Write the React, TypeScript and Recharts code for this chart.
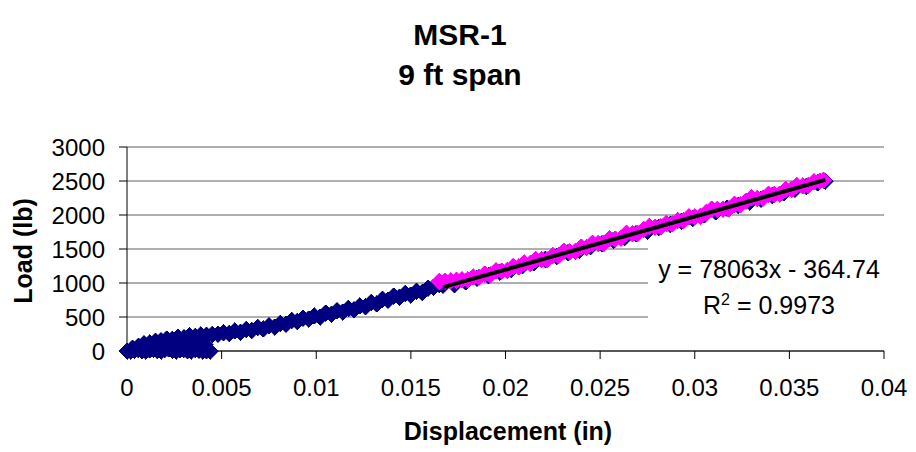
import { ScatterChart, Scatter, XAxis, YAxis, CartesianGrid } from "recharts";

const FONT = "'Liberation Sans', Arial, Helvetica, sans-serif";

// x = displacement (in), y = load (lb)
const toeCluster: [number, number][] = [
  [0.0002, 0], [0.0004, 10], [0.0006, 20], [0.0008, 5], [0.001, 0], [0.0011, 45],
  [0.0012, 15], [0.0014, 25], [0.0016, 5], [0.0017, 60], [0.0018, 0], [0.002, 20],
  [0.0022, 30], [0.0023, 70], [0.0024, 10], [0.0026, 0], [0.0028, 15], [0.0029, 80],
  [0.003, 25], [0.0032, 5], [0.0034, 0], [0.0035, 90], [0.0036, 20], [0.0038, 10],
  [0.004, 0], [0.0041, 95], [0.0042, 5], [0.0044, 0],
];

const riseCurve: [number, number][] = [
  [0, 0], [0.0003, 40], [0.0006, 70], [0.0009, 105], [0.0012, 120], [0.0015, 145],
  [0.0018, 150], [0.0021, 175], [0.0024, 170], [0.0027, 200], [0.003, 195],
  [0.0033, 222], [0.0036, 212], [0.0039, 238], [0.0042, 228], [0.0045, 242],
  [0.0048, 245], [0.0051, 270], [0.0054, 258], [0.0057, 295], [0.006, 278],
  [0.0063, 318], [0.0066, 300], [0.0069, 345], [0.0072, 325], [0.0075, 372],
  [0.0078, 352], [0.0081, 405], [0.0084, 392], [0.0087, 450], [0.009, 432],
  [0.0093, 482], [0.0096, 468], [0.0099, 515], [0.0102, 500], [0.0105, 556],
  [0.0108, 540], [0.0111, 590], [0.0114, 572], [0.0117, 625], [0.012, 608],
  [0.0123, 662], [0.0126, 648], [0.0129, 712], [0.0132, 692], [0.0135, 762],
  [0.0138, 745], [0.0141, 808], [0.0144, 788], [0.0147, 845], [0.015, 822],
  [0.0153, 880], [0.0156, 858], [0.0159, 925], [0.0162, 935], [0.0165, 978],
];

const linearNavy: [number, number][] = [
  [0.0167, 965], [0.0173, 975], [0.0179, 1015], [0.0185, 1068], [0.0191, 1108],
  [0.0197, 1160], [0.0203, 1200], [0.0209, 1255], [0.0215, 1295], [0.0221, 1348],
  [0.0227, 1390], [0.0233, 1442], [0.0239, 1482], [0.0245, 1535], [0.0251, 1575],
  [0.0257, 1630], [0.0263, 1670], [0.0269, 1722], [0.0275, 1762], [0.0281, 1815],
  [0.0287, 1858], [0.0293, 1910], [0.0299, 1950], [0.0305, 2002], [0.0311, 2045],
  [0.0317, 2098], [0.0323, 2138], [0.0329, 2190], [0.0335, 2232], [0.0341, 2285],
  [0.0347, 2325], [0.0353, 2378], [0.0359, 2420], [0.0365, 2472], [0.0369, 2500],
];

const fitRange: [number, number][] = [
  [0.0165, 1023], [0.0168, 1027], [0.0171, 1030], [0.0174, 1040], [0.0177, 1050],
  [0.018, 1045], [0.0183, 1090], [0.0186, 1082], [0.0189, 1130], [0.0192, 1118],
  [0.0195, 1182], [0.0198, 1176], [0.0201, 1185], [0.0204, 1242], [0.0207, 1236],
  [0.021, 1295], [0.0213, 1288], [0.0216, 1345], [0.0219, 1340], [0.0222, 1342],
  [0.0225, 1406], [0.0228, 1400], [0.0231, 1468], [0.0234, 1456], [0.0237, 1465],
  [0.024, 1528], [0.0243, 1522], [0.0246, 1586], [0.0249, 1580], [0.0252, 1582],
  [0.0255, 1650], [0.0258, 1644], [0.0261, 1658], [0.0264, 1730], [0.0267, 1724],
  [0.027, 1728], [0.0273, 1786], [0.0276, 1830], [0.0279, 1823], [0.0282, 1826],
  [0.0285, 1875], [0.0288, 1868], [0.0291, 1922], [0.0294, 1915], [0.0297, 1972],
  [0.03, 1972], [0.0303, 1980], [0.0306, 2038], [0.0309, 2087], [0.0312, 2081],
  [0.0315, 2084], [0.0318, 2092], [0.0321, 2156], [0.0324, 2149], [0.0327, 2203],
  [0.033, 2251], [0.0333, 2244], [0.0336, 2248], [0.0339, 2306], [0.0342, 2300],
  [0.0345, 2308], [0.0348, 2376], [0.0351, 2375], [0.0354, 2433], [0.0357, 2427],
  [0.036, 2436], [0.0363, 2488], [0.0366, 2500], [0.0368, 2510],
];

// linear trendline y = 78063x - 364.74, end points over the fitted range
const trendEnds: [number, number][] = [
  [0.0167, 939],
  [0.0369, 2516],
];

const xTicks = [0, 0.005, 0.01, 0.015, 0.02, 0.025, 0.03, 0.035, 0.04];
const yTicks = [0, 500, 1000, 1500, 2000, 2500, 3000];

const toPoints = (rows: [number, number][]) => rows.map(([x, y]) => ({ x, y }));

const navyData = [...toPoints(toeCluster), ...toPoints(riseCurve), ...toPoints(linearNavy)];
const magentaData = toPoints(fitRange);
const trendData = toPoints(trendEnds);

const Diamond = (props: any) => {
  const { cx, cy, fill } = props;
  if (cx == null || cy == null) return <g />;
  const r = 8.5;
  return (
    <polygon
      points={`${cx},${cy - r} ${cx + r},${cy} ${cx},${cy + r} ${cx - r},${cy}`}
      fill={fill}
      stroke={fill}
      strokeWidth={0.5}
      shapeRendering="crispEdges"
    />
  );
};

const NoMarker = () => <g />;

const tickStyle = { fill: "#000", fontSize: 24, fontFamily: FONT };

export default function App() {
  return (
    <div
      style={{
        position: "absolute",
        left: 0,
        top: 0,
        width: 916,
        height: 452,
        background: "#fff",
        fontFamily: FONT,
        color: "#000",
      }}
    >
      <div
        style={{
          position: "absolute",
          left: 0,
          width: 916,
          top: 15,
          textAlign: "center",
          fontWeight: "bold",
          fontSize: 30,
          lineHeight: "40px",
          paddingLeft: 2,
        }}
      >
        <div>MSR-1</div>
        <div>9 ft span</div>
      </div>

      <ScatterChart
        width={916}
        height={452}
        margin={{ top: 147, right: 32, bottom: 61, left: 0 }}
      >
        <CartesianGrid vertical={false} stroke="#606060" strokeWidth={1} />
        <XAxis
          type="number"
          dataKey="x"
          domain={[0, 0.04]}
          ticks={xTicks}
          tickFormatter={(v: number) => String(v)}
          stroke="#000"
          tickSize={8}
          tickMargin={20}
          height={40}
          tick={tickStyle}
        />
        <YAxis
          type="number"
          dataKey="y"
          domain={[0, 3000]}
          ticks={yTicks}
          stroke="#000"
          tickSize={8}
          tickMargin={14}
          width={127}
          tick={tickStyle}
        />
        <Scatter
          data={navyData}
          fill="#000080"
          shape={Diamond}
          isAnimationActive={false}
        />
        <Scatter
          data={magentaData}
          fill="#FF00FF"
          shape={Diamond}
          isAnimationActive={false}
        />
        <Scatter
          data={trendData}
          fill="#000"
          shape={NoMarker}
          line={{ stroke: "#000", strokeWidth: 4 }}
          lineType="joint"
          isAnimationActive={false}
        />
      </ScatterChart>

      <div
        style={{
          position: "absolute",
          left: 648,
          top: 242,
          width: 242,
          height: 84,
          background: "#fff",
          textAlign: "center",
          fontSize: 25,
          lineHeight: "36px",
          paddingTop: 9,
          boxSizing: "border-box",
        }}
      >
        <div>y = 78063x - 364.74</div>
        <div>
          R<sup style={{ fontSize: 16, verticalAlign: "9px", lineHeight: 0 }}>2</sup> = 0.9973
        </div>
      </div>

      <div
        style={{
          position: "absolute",
          left: 0,
          width: 1016,
          top: 416,
          textAlign: "center",
          fontWeight: "bold",
          fontSize: 25,
          lineHeight: "30px",
        }}
      >
        Displacement (in)
      </div>

      <div
        style={{
          position: "absolute",
          left: 23,
          top: 251,
          transform: "translate(-50%, -50%) rotate(-90deg)",
          whiteSpace: "nowrap",
          fontWeight: "bold",
          fontSize: 25,
        }}
      >
        Load (lb)
      </div>
    </div>
  );
}
